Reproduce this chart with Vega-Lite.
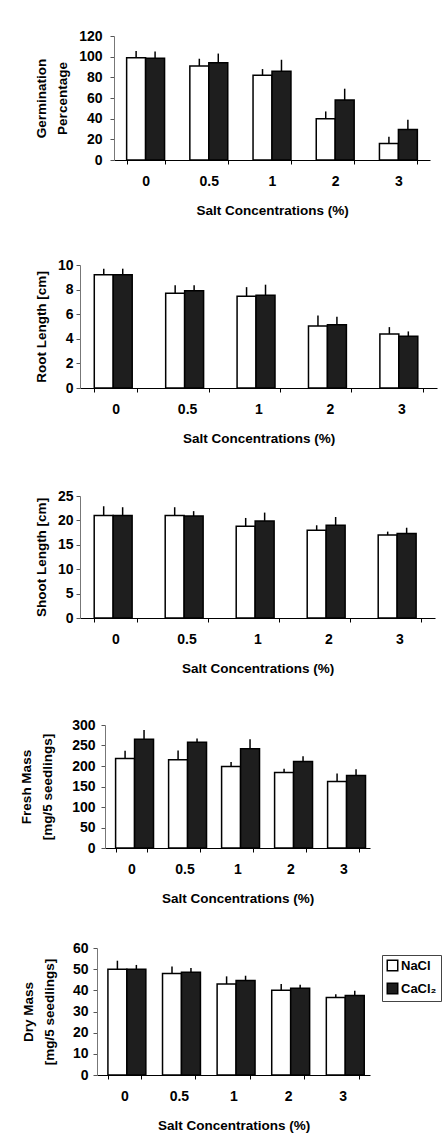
{
  "$schema": "https://vega.github.io/schema/vega-lite/v6.json",
  "background": "white",
  "padding": {"left": 0, "top": 29, "right": 0, "bottom": 0},
  "spacing": 0,
  "columns": 1,
  "align": "none",
  "bounds": "full",
  "data": {"values": [
    {"panel": "germ", "conc": "0", "salt": "NaCl", "value": 99, "err": 105.5},
    {"panel": "germ", "conc": "0", "salt": "CaCl₂", "value": 98.5, "err": 105},
    {"panel": "germ", "conc": "0.5", "salt": "NaCl", "value": 91, "err": 98},
    {"panel": "germ", "conc": "0.5", "salt": "CaCl₂", "value": 94, "err": 103},
    {"panel": "germ", "conc": "1", "salt": "NaCl", "value": 82, "err": 88},
    {"panel": "germ", "conc": "1", "salt": "CaCl₂", "value": 86, "err": 97},
    {"panel": "germ", "conc": "2", "salt": "NaCl", "value": 40, "err": 47},
    {"panel": "germ", "conc": "2", "salt": "CaCl₂", "value": 58, "err": 69},
    {"panel": "germ", "conc": "3", "salt": "NaCl", "value": 16, "err": 22.5},
    {"panel": "germ", "conc": "3", "salt": "CaCl₂", "value": 29.5, "err": 39},
    {"panel": "root", "conc": "0", "salt": "NaCl", "value": 9.2, "err": 9.7},
    {"panel": "root", "conc": "0", "salt": "CaCl₂", "value": 9.2, "err": 9.7},
    {"panel": "root", "conc": "0.5", "salt": "NaCl", "value": 7.7, "err": 8.35},
    {"panel": "root", "conc": "0.5", "salt": "CaCl₂", "value": 7.9, "err": 8.35},
    {"panel": "root", "conc": "1", "salt": "NaCl", "value": 7.45, "err": 8.2},
    {"panel": "root", "conc": "1", "salt": "CaCl₂", "value": 7.55, "err": 8.4},
    {"panel": "root", "conc": "2", "salt": "NaCl", "value": 5.05, "err": 5.9},
    {"panel": "root", "conc": "2", "salt": "CaCl₂", "value": 5.15, "err": 5.8},
    {"panel": "root", "conc": "3", "salt": "NaCl", "value": 4.4, "err": 4.95},
    {"panel": "root", "conc": "3", "salt": "CaCl₂", "value": 4.2, "err": 4.6},
    {"panel": "shoot", "conc": "0", "salt": "NaCl", "value": 21, "err": 22.9},
    {"panel": "shoot", "conc": "0", "salt": "CaCl₂", "value": 21, "err": 22.7},
    {"panel": "shoot", "conc": "0.5", "salt": "NaCl", "value": 21, "err": 22.7},
    {"panel": "shoot", "conc": "0.5", "salt": "CaCl₂", "value": 20.9, "err": 21.9},
    {"panel": "shoot", "conc": "1", "salt": "NaCl", "value": 18.8, "err": 20.5},
    {"panel": "shoot", "conc": "1", "salt": "CaCl₂", "value": 19.9, "err": 21.6},
    {"panel": "shoot", "conc": "2", "salt": "NaCl", "value": 18, "err": 19},
    {"panel": "shoot", "conc": "2", "salt": "CaCl₂", "value": 19, "err": 20.7},
    {"panel": "shoot", "conc": "3", "salt": "NaCl", "value": 17, "err": 17.7},
    {"panel": "shoot", "conc": "3", "salt": "CaCl₂", "value": 17.3, "err": 18.5},
    {"panel": "fresh", "conc": "0", "salt": "NaCl", "value": 218, "err": 237},
    {"panel": "fresh", "conc": "0", "salt": "CaCl₂", "value": 265, "err": 288},
    {"panel": "fresh", "conc": "0.5", "salt": "NaCl", "value": 215, "err": 238},
    {"panel": "fresh", "conc": "0.5", "salt": "CaCl₂", "value": 258, "err": 267},
    {"panel": "fresh", "conc": "1", "salt": "NaCl", "value": 199, "err": 210},
    {"panel": "fresh", "conc": "1", "salt": "CaCl₂", "value": 242, "err": 265},
    {"panel": "fresh", "conc": "2", "salt": "NaCl", "value": 184, "err": 193},
    {"panel": "fresh", "conc": "2", "salt": "CaCl₂", "value": 211, "err": 224},
    {"panel": "fresh", "conc": "3", "salt": "NaCl", "value": 162, "err": 182},
    {"panel": "fresh", "conc": "3", "salt": "CaCl₂", "value": 177, "err": 192},
    {"panel": "dry", "conc": "0", "salt": "NaCl", "value": 50, "err": 54},
    {"panel": "dry", "conc": "0", "salt": "CaCl₂", "value": 50, "err": 52},
    {"panel": "dry", "conc": "0.5", "salt": "NaCl", "value": 48, "err": 51.3},
    {"panel": "dry", "conc": "0.5", "salt": "CaCl₂", "value": 48.5, "err": 50.5},
    {"panel": "dry", "conc": "1", "salt": "NaCl", "value": 43, "err": 46.6},
    {"panel": "dry", "conc": "1", "salt": "CaCl₂", "value": 44.7, "err": 46.9},
    {"panel": "dry", "conc": "2", "salt": "NaCl", "value": 40, "err": 43},
    {"panel": "dry", "conc": "2", "salt": "CaCl₂", "value": 41, "err": 42.6},
    {"panel": "dry", "conc": "3", "salt": "NaCl", "value": 36.6, "err": 38.2},
    {"panel": "dry", "conc": "3", "salt": "CaCl₂", "value": 37.6, "err": 39.8}
  ]},
  "resolve": {"scale": {"color": "independent"}, "legend": {"color": "independent"}},
  "concat": [
    {
      "concat": [
        {"width": 114, "height": 222, "data": {"values": [{"s": 0}]}, "mark": {"type": "point", "opacity": 0}},
        {
          "width": 316, "height": 124,
          "transform": [{"filter": "datum.panel === 'germ'"}],
          "encoding": {
            "x": {"field": "conc", "type": "ordinal", "sort": ["0", "0.5", "1", "2", "3"], "scale": {"paddingInner": 0.4, "paddingOuter": 0.2}, "title": "Salt Concentrations (%)"},
            "xOffset": {"field": "salt", "type": "nominal", "sort": ["NaCl", "CaCl₂"]},
            "y": {"field": "value", "type": "quantitative", "scale": {"domain": [0, 120]}, "axis": {"values": [0, 20, 40, 60, 80, 100, 120], "title": ["Germination", "Percentage"], "labelPadding": 8, "titlePadding": 9}}
          },
          "layer": [
            {"mark": {"type": "bar", "stroke": "black", "strokeWidth": 1.5},
             "encoding": {"color": {"field": "salt", "type": "nominal", "scale": {"domain": ["NaCl", "CaCl₂"], "range": ["white", "#1e1e1e"]}, "legend": null}}},
            {"mark": {"type": "rule", "color": "black", "strokeWidth": 1.5},
             "encoding": {"y2": {"field": "err"}}}
          ]
        }
      ],
      "columns": 2, "align": "none", "bounds": "flush", "spacing": 0,
      "resolve": {"scale": {"color": "independent"}, "legend": {"color": "independent"}}
    },
    {
      "concat": [
        {"width": 80, "height": 224, "data": {"values": [{"s": 0}]}, "mark": {"type": "point", "opacity": 0}},
        {
          "width": 357, "height": 123,
          "transform": [{"filter": "datum.panel === 'root'"}],
          "encoding": {
            "x": {"field": "conc", "type": "ordinal", "sort": ["0", "0.5", "1", "2", "3"], "scale": {"paddingInner": 0.4, "paddingOuter": 0.2}, "title": "Salt Concentrations (%)"},
            "xOffset": {"field": "salt", "type": "nominal", "sort": ["NaCl", "CaCl₂"]},
            "y": {"field": "value", "type": "quantitative", "scale": {"domain": [0, 10]}, "axis": {"values": [0, 2, 4, 6, 8, 10], "title": "Root Length [cm]", "labelPadding": 3, "titlePadding": 9}}
          },
          "layer": [
            {"mark": {"type": "bar", "stroke": "black", "strokeWidth": 1.5},
             "encoding": {"color": {"field": "salt", "type": "nominal", "scale": {"domain": ["NaCl", "CaCl₂"], "range": ["white", "#1e1e1e"]}, "legend": null}}},
            {"mark": {"type": "rule", "color": "black", "strokeWidth": 1.5},
             "encoding": {"y2": {"field": "err"}}}
          ]
        }
      ],
      "columns": 2, "align": "none", "bounds": "flush", "spacing": 0,
      "resolve": {"scale": {"color": "independent"}, "legend": {"color": "independent"}}
    },
    {
      "concat": [
        {"width": 80, "height": 222, "data": {"values": [{"s": 0}]}, "mark": {"type": "point", "opacity": 0}},
        {
          "width": 355, "height": 122,
          "transform": [{"filter": "datum.panel === 'shoot'"}],
          "encoding": {
            "x": {"field": "conc", "type": "ordinal", "sort": ["0", "0.5", "1", "2", "3"], "scale": {"paddingInner": 0.4, "paddingOuter": 0.2}, "title": "Salt Concentrations (%)"},
            "xOffset": {"field": "salt", "type": "nominal", "sort": ["NaCl", "CaCl₂"]},
            "y": {"field": "value", "type": "quantitative", "scale": {"domain": [0, 25]}, "axis": {"values": [0, 5, 10, 15, 20, 25], "title": "Shoot Length [cm]", "labelPadding": 3, "titlePadding": 9}}
          },
          "layer": [
            {"mark": {"type": "bar", "stroke": "black", "strokeWidth": 1.5},
             "encoding": {"color": {"field": "salt", "type": "nominal", "scale": {"domain": ["NaCl", "CaCl₂"], "range": ["white", "#1e1e1e"]}, "legend": null}}},
            {"mark": {"type": "rule", "color": "black", "strokeWidth": 1.5},
             "encoding": {"y2": {"field": "err"}}}
          ]
        }
      ],
      "columns": 2, "align": "none", "bounds": "flush", "spacing": 0,
      "resolve": {"scale": {"color": "independent"}, "legend": {"color": "independent"}}
    },
    {
      "concat": [
        {"width": 105, "height": 216, "data": {"values": [{"s": 0}]}, "mark": {"type": "point", "opacity": 0}},
        {
          "width": 265, "height": 123,
          "transform": [{"filter": "datum.panel === 'fresh'"}],
          "encoding": {
            "x": {"field": "conc", "type": "ordinal", "sort": ["0", "0.5", "1", "2", "3"], "scale": {"paddingInner": 0.4, "paddingOuter": 0.2}, "title": "Salt Concentrations (%)"},
            "xOffset": {"field": "salt", "type": "nominal", "sort": ["NaCl", "CaCl₂"]},
            "y": {"field": "value", "type": "quantitative", "scale": {"domain": [0, 300]}, "axis": {"values": [0, 50, 100, 150, 200, 250, 300], "title": ["Fresh Mass", "[mg/5 seedlings]"], "labelPadding": 6, "titlePadding": 17}}
          },
          "layer": [
            {"mark": {"type": "bar", "stroke": "black", "strokeWidth": 1.5},
             "encoding": {"color": {"field": "salt", "type": "nominal", "scale": {"domain": ["NaCl", "CaCl₂"], "range": ["white", "#1e1e1e"]}, "legend": null}}},
            {"mark": {"type": "rule", "color": "black", "strokeWidth": 1.5},
             "encoding": {"y2": {"field": "err"}}}
          ]
        }
      ],
      "columns": 2, "align": "none", "bounds": "flush", "spacing": 0,
      "resolve": {"scale": {"color": "independent"}, "legend": {"color": "independent"}}
    },
    {
      "concat": [
        {"width": 97, "height": 190, "data": {"values": [{"s": 0}]}, "mark": {"type": "point", "opacity": 0}},
        {
          "width": 273, "height": 127,
          "transform": [{"filter": "datum.panel === 'dry'"}],
          "encoding": {
            "x": {"field": "conc", "type": "ordinal", "sort": ["0", "0.5", "1", "2", "3"], "scale": {"paddingInner": 0.4, "paddingOuter": 0.2}, "title": "Salt Concentrations (%)"},
            "xOffset": {"field": "salt", "type": "nominal", "sort": ["NaCl", "CaCl₂"]},
            "y": {"field": "value", "type": "quantitative", "scale": {"domain": [0, 60]}, "axis": {"values": [0, 10, 20, 30, 40, 50, 60], "title": ["Dry Mass", "[mg/5 seedlings]"], "labelPadding": 5, "titlePadding": 16}}
          },
          "layer": [
            {"mark": {"type": "bar", "stroke": "black", "strokeWidth": 1.5},
             "encoding": {"color": {"field": "salt", "type": "nominal", "scale": {"domain": ["NaCl", "CaCl₂"], "range": ["white", "#1e1e1e"]},
               "legend": {"title": null, "orient": "none", "legendX": 285, "legendY": 7, "symbolType": "square", "symbolSize": 110, "symbolStrokeColor": "black", "symbolStrokeWidth": 1.5, "labelFontSize": 13, "labelFontWeight": "bold", "labelFont": "Liberation Sans", "labelColor": "black", "strokeColor": "#444", "padding": 4, "rowPadding": 6, "labelOffset": 2}}}},
            {"mark": {"type": "rule", "color": "black", "strokeWidth": 1.5},
             "encoding": {"y2": {"field": "err"}}}
          ]
        }
      ],
      "columns": 2, "align": "none", "bounds": "flush", "spacing": 0,
      "resolve": {"scale": {"color": "independent"}, "legend": {"color": "independent"}}
    }
  ],
  "config": {
    "font": "Liberation Sans",
    "view": {"stroke": null},
    "axisX": {"labelAngle": 0, "tickBand": "extent", "tickSize": 4, "labelPadding": 10, "titlePadding": 15, "domainColor": "black", "tickColor": "black", "domainWidth": 1.2},
    "axisY": {"grid": false, "tickSize": 4, "domainColor": "#777", "tickColor": "#555", "titleLineHeight": 21, "labelOverlap": false},
    "axis": {"labelFont": "Liberation Sans", "labelFontSize": 14, "labelFontWeight": "bold", "labelColor": "black", "titleFont": "Liberation Sans", "titleFontSize": 13.5, "titleFontWeight": "bold", "titleColor": "black"}
  }
}
